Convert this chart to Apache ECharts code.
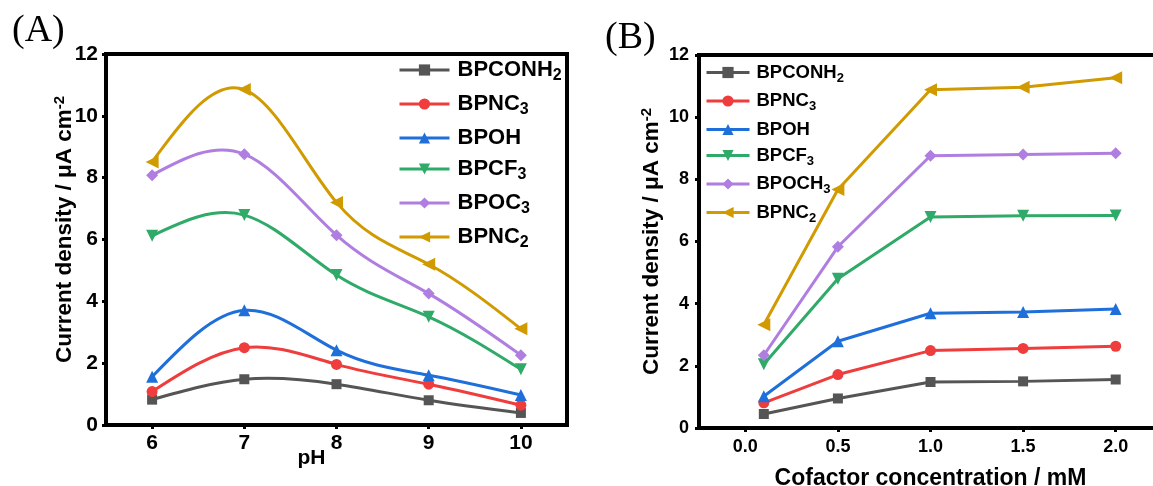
<!DOCTYPE html>
<html>
<head>
<meta charset="utf-8">
<script src="https://cdn.jsdelivr.net/npm/echarts@6/dist/echarts.min.js"></script>
<style>
  html, body { margin: 0; padding: 0; background: #fff; }
  #chart { width: 1153px; height: 486px; }
</style>
</head>
<body>
<div id="chart"></div>
<script>
// ---- Panel A: current density vs pH ----
const phValues = [6, 7, 8, 9, 10];
const phCONH2 = [0.82, 1.48, 1.32, 0.80, 0.39];
const phNC3   = [1.08, 2.50, 1.96, 1.32, 0.64];
const phOH    = [1.56, 3.71, 2.42, 1.61, 0.97];
const phCF3   = [6.12, 6.79, 4.85, 3.50, 1.80];
const phOC3   = [8.08, 8.76, 6.14, 4.25, 2.26];
const phNC2   = [8.51, 10.85, 7.20, 5.20, 3.11];

// ---- Panel B: current density vs cofactor concentration (mM) ----
const cofValues = [0.1, 0.5, 1.0, 1.5, 2.0];
const cofTicks  = [0.0, 0.5, 1.0, 1.5, 2.0];
const cofCONH2 = [0.45, 0.95, 1.48, 1.50, 1.56];
const cofNC3   = [0.81, 1.72, 2.49, 2.56, 2.63];
const cofOH    = [1.02, 2.79, 3.69, 3.73, 3.83];
const cofCF3   = [2.05, 4.80, 6.79, 6.83, 6.84];
const cofOCH3  = [2.34, 5.83, 8.76, 8.80, 8.84];
const cofNC2   = [3.32, 7.67, 10.88, 10.96, 11.27];

const yTicks = [0, 2, 4, 6, 8, 10, 12];

const namesA = ['BPCONH2', 'BPNC3', 'BPOH', 'BPCF3', 'BPOC3', 'BPNC2'];
const namesB = ['BPCONH2', 'BPNC3', 'BPOH', 'BPCF3', 'BPOCH3', 'BPNC2'];

const SANS = '"Liberation Sans", Arial, sans-serif';
const SERIF = '"Liberation Serif", "Times New Roman", serif';

// marker / colour per compound
const styles = {
  BPCONH2: { color: '#555555', symbol: 'rect',     rotate: 0,   size: 10 },
  BPNC3:   { color: '#ef3d3d', symbol: 'circle',   rotate: 0,   size: 11 },
  BPOH:    { color: '#1f6fdb', symbol: 'triangle', rotate: 0,   size: 12 },
  BPCF3:   { color: '#2faa68', symbol: 'triangle', rotate: 180, size: 12 },
  BPOC3:   { color: '#b07ee0', symbol: 'diamond',  rotate: 0,   size: 12 },
  BPOCH3:  { color: '#b07ee0', symbol: 'diamond',  rotate: 0,   size: 12 },
  BPNC2:   { color: '#d09a00', symbol: 'triangle', rotate: 90,  size: 13 }
};

function pairs(xs, ys) { return xs.map((x, i) => [x, ys[i]]); }

// markers (and legend entry) for one compound
function makeSeries(name, xs, ys, idx, lineVisible) {
  const s = styles[name];
  return {
    name: name,
    type: 'line',
    xAxisIndex: idx,
    yAxisIndex: idx,
    data: pairs(xs, ys),
    smooth: false,
    symbol: s.symbol,
    symbolRotate: s.rotate,
    symbolSize: s.size,
    showAllSymbol: true,
    color: s.color,
    z: 3,
    lineStyle: { color: s.color, width: 3, opacity: lineVisible ? 1 : 0 },
    itemStyle: { color: s.color },
    emphasis: { disabled: true },
    animation: false
  };
}

// node slopes of a natural cubic spline through (xs, ys)
function splineSlopes(xs, ys) {
  const n = xs.length;
  const h = [], d = [];
  for (let i = 0; i < n - 1; i++) { h.push(xs[i + 1] - xs[i]); d.push((ys[i + 1] - ys[i]) / h[i]); }
  const M = new Array(n).fill(0);
  const a = [], b = [], c = [], r = [];
  for (let i = 1; i < n - 1; i++) {
    a.push(h[i - 1]); b.push(2 * (h[i - 1] + h[i])); c.push(h[i]); r.push(6 * (d[i] - d[i - 1]));
  }
  const m = r.length;
  for (let i = 1; i < m; i++) {
    const w = a[i] / b[i - 1];
    b[i] -= w * c[i - 1];
    r[i] -= w * r[i - 1];
  }
  const sol = new Array(m);
  for (let i = m - 1; i >= 0; i--) sol[i] = (r[i] - (i < m - 1 ? c[i] * sol[i + 1] : 0)) / b[i];
  for (let i = 0; i < m; i++) M[i + 1] = sol[i];
  const slopes = [];
  for (let i = 0; i < n - 1; i++) slopes.push(d[i] - h[i] * (2 * M[i] + M[i + 1]) / 6);
  slopes.push(d[n - 2] + h[n - 2] * (M[n - 2] + 2 * M[n - 1]) / 6);
  return slopes;
}

// smooth spline curve drawn segment by segment through the axis scales
function curveSeries(name, xs, ys) {
  const color = styles[name].color;
  const slopes = splineSlopes(xs, ys);
  return {
    type: 'custom',
    xAxisIndex: 0,
    yAxisIndex: 0,
    z: 2,
    silent: true,
    animation: false,
    encode: { x: 0, y: 1 },
    data: xs.map((x, i) => [x, ys[i], slopes[i]]),
    renderItem: function (params, api) {
      const i = params.dataIndexInside;
      if (i >= xs.length - 1) return null;
      const x0 = api.value(0, i), y0 = api.value(1, i), m0 = api.value(2, i);
      const x1 = api.value(0, i + 1), y1 = api.value(1, i + 1), m1 = api.value(2, i + 1);
      const hh = (x1 - x0) / 3;
      const p0 = api.coord([x0, y0]);
      const c0 = api.coord([x0 + hh, y0 + m0 * hh]);
      const c1 = api.coord([x1 - hh, y1 - m1 * hh]);
      const p1 = api.coord([x1, y1]);
      return {
        type: 'bezierCurve',
        shape: { x1: p0[0], y1: p0[1], cpx1: c0[0], cpy1: c0[1], cpx2: c1[0], cpy2: c1[1], x2: p1[0], y2: p1[1] },
        style: { stroke: color, lineWidth: 3, fill: null }
      };
    }
  };
}

// trailing digit of a compound name is drawn as a subscript
function subName(name) {
  const m = name.match(/^(.*?)(\d+)$/);
  return m ? '{m|' + m[1] + '}{s|' + m[2] + '}' : '{m|' + name + '}';
}

function legendRich(main, sub, lh, subLh) {
  return {
    m: { fontFamily: SANS, fontWeight: 'bold', fontSize: main, lineHeight: lh, color: '#000' },
    s: { fontFamily: SANS, fontWeight: 'bold', fontSize: sub, lineHeight: subLh, color: '#000', verticalAlign: 'bottom' }
  };
}

function yName(main, sup, pad) {
  return {
    name: '{m|Current density / μA cm}{p|-2}',
    nameTextStyle: {
      padding: pad,
      rich: {
        m: { fontFamily: SANS, fontWeight: 'bold', fontSize: main, lineHeight: 26, color: '#000' },
        p: { fontFamily: SANS, fontWeight: 'bold', fontSize: sup, lineHeight: 10, color: '#000', verticalAlign: 'top' }
      }
    }
  };
}

const axisLine = { show: true, onZero: false, lineStyle: { color: '#000', width: 4 } };
const tick = (vals) => ({ show: true, inside: false, length: 4, customValues: vals, lineStyle: { color: '#000', width: 3 } });

const option = {
  backgroundColor: '#fff',
  animation: false,
  grid: [
    { left: 106, top: 54, width: 461, height: 371, show: true, borderColor: '#000', borderWidth: 4, containLabel: false, outerBoundsMode: 'none' },
    { left: 699, top: 55, width: 463, height: 373, show: true, borderColor: '#000', borderWidth: 4, containLabel: false, outerBoundsMode: 'none' }
  ],
  xAxis: [
    {
      gridIndex: 0, type: 'value', min: 5.5, max: 10.5,
      axisLine: axisLine, axisTick: tick(phValues), splitLine: { show: false },
      axisLabel: { customValues: phValues, fontFamily: SANS, fontWeight: 'bold', fontSize: 21, color: '#000', margin: 8 },
      name: 'pH', nameLocation: 'middle', nameGap: 23, nameMoveOverlap: false,
      nameTextStyle: { fontFamily: SANS, fontWeight: 'bold', fontSize: 21, color: '#000', padding: [0, 50, 0, 0] }
    },
    {
      gridIndex: 1, type: 'value', min: -0.25, max: 2.25,
      axisLine: axisLine, axisTick: tick(cofTicks), splitLine: { show: false },
      axisLabel: { customValues: cofTicks, formatter: (v) => v.toFixed(1), fontFamily: SANS, fontWeight: 'bold', fontSize: 18, color: '#000', margin: 10 },
      name: 'Cofactor concentration / mM', nameLocation: 'middle', nameGap: 39, nameMoveOverlap: false,
      nameTextStyle: { fontFamily: SANS, fontWeight: 'bold', fontSize: 23, color: '#000' }
    }
  ],
  yAxis: [
    Object.assign({
      gridIndex: 0, type: 'value', min: 0, max: 12, interval: 2,
      axisLine: axisLine, axisTick: tick(yTicks), splitLine: { show: false },
      axisLabel: { fontFamily: SANS, fontWeight: 'bold', fontSize: 21, color: '#000', margin: 8 },
      nameLocation: 'middle', nameGap: 28, nameMoveOverlap: false
    }, yName(22.5, 15, [0, 0, 0, 20])),
    Object.assign({
      gridIndex: 1, type: 'value', min: 0, max: 12, interval: 2,
      axisLine: axisLine, axisTick: tick(yTicks), splitLine: { show: false },
      axisLabel: { fontFamily: SANS, fontWeight: 'bold', fontSize: 18, color: '#000', margin: 10 },
      nameLocation: 'middle', nameGap: 34, nameMoveOverlap: false
    }, yName(22.5, 15, [0, 0, 0, 0]))
  ],
  legend: [
    {
      data: namesA, orient: 'vertical', left: 398, top: 59, padding: 0,
      itemWidth: 50, itemHeight: 14, itemGap: 9, selectedMode: false,
      lineStyle: { width: 3, opacity: 1 },
      formatter: subName,
      textStyle: { padding: [0, 0, 0, 3], rich: legendRich(22, 16, 28, 12) }
    },
    {
      data: namesB, orient: 'vertical', left: 705, top: 63, padding: 0,
      itemWidth: 43, itemHeight: 14, itemGap: 7, selectedMode: false,
      lineStyle: { width: 3, opacity: 1 },
      formatter: subName,
      textStyle: { padding: [0, 0, 0, 2], rich: legendRich(18.5, 13, 24, 8) }
    }
  ],
  graphic: [
    { type: 'text', left: 12, top: 12, style: { text: '(A)', fontFamily: SERIF, fontSize: 38, fill: '#000' } },
    { type: 'text', left: 605, top: 19, style: { text: '(B)', fontFamily: SERIF, fontSize: 38, fill: '#000' } }
  ],
  series: [
    curveSeries('BPCONH2', phValues, phCONH2),
    curveSeries('BPNC3',   phValues, phNC3),
    curveSeries('BPOH',    phValues, phOH),
    curveSeries('BPCF3',   phValues, phCF3),
    curveSeries('BPOC3',   phValues, phOC3),
    curveSeries('BPNC2',   phValues, phNC2),
    makeSeries('BPCONH2', phValues, phCONH2, 0, false),
    makeSeries('BPNC3',   phValues, phNC3,   0, false),
    makeSeries('BPOH',    phValues, phOH,    0, false),
    makeSeries('BPCF3',   phValues, phCF3,   0, false),
    makeSeries('BPOC3',   phValues, phOC3,   0, false),
    makeSeries('BPNC2',   phValues, phNC2,   0, false),
    makeSeries('BPCONH2', cofValues, cofCONH2, 1, true),
    makeSeries('BPNC3',   cofValues, cofNC3,   1, true),
    makeSeries('BPOH',    cofValues, cofOH,    1, true),
    makeSeries('BPCF3',   cofValues, cofCF3,   1, true),
    makeSeries('BPOCH3',  cofValues, cofOCH3,  1, true),
    makeSeries('BPNC2',   cofValues, cofNC2,   1, true)
  ]
};

const chart = echarts.init(document.getElementById('chart'), null, { renderer: 'canvas' });
chart.setOption(option);
</script>
</body>
</html>
